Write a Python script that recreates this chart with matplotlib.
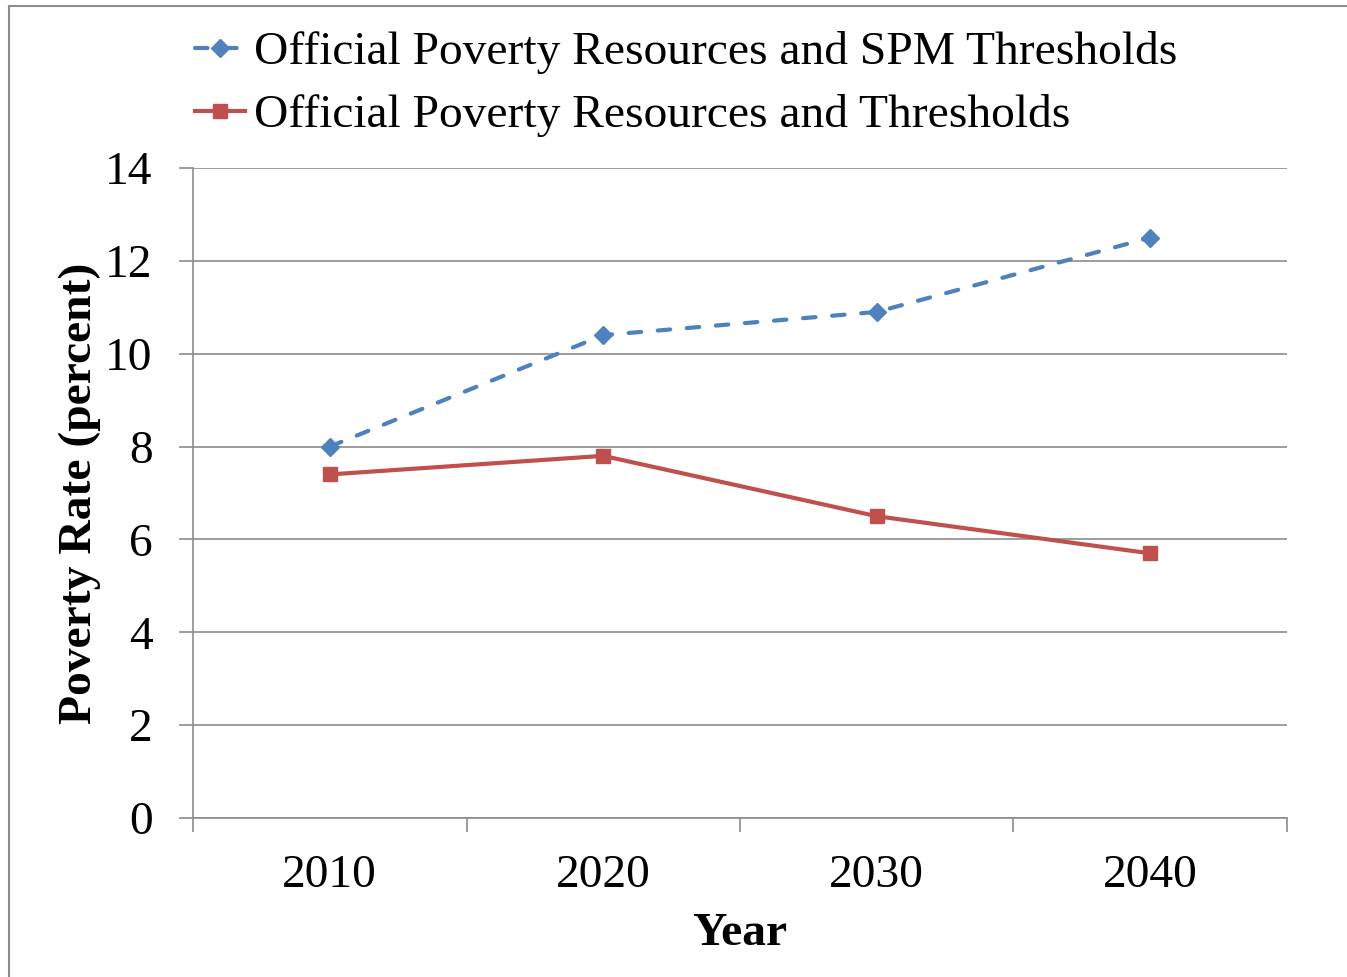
import matplotlib
matplotlib.use("Agg")
import matplotlib.pyplot as plt
from matplotlib.lines import Line2D

years = ["2010", "2020", "2030", "2040"]
spm_series = [8.0, 10.4, 10.9, 12.5]
official_series = [7.4, 7.8, 6.5, 5.7]
label_spm = "Official Poverty Resources and SPM Thresholds"
label_off = "Official Poverty Resources and Thresholds"

plt.rcParams['font.family'] = ['Liberation Serif', 'DejaVu Serif']

W, H = 1347, 977
FS = 34.2
fig = plt.figure(figsize=(W/100, H/100), dpi=100)
ax = fig.add_axes([193/W, 1-818/H, (1287-193)/W, (818-168)/H])

x = list(range(len(years)))
ax.plot(x, spm_series, color='#4F81BD', lw=3, ls=(0, (3.0, 4.0)), dash_capstyle='round',
        marker='D', ms=9, label=label_spm)
ax.plot(x, official_series, color='#C0504D', lw=3, marker='s', ms=9.5,
        label=label_off)

ax.set_xlim(-0.5, len(years)-0.5)
ax.set_ylim(0, 14)
ax.set_yticks(range(0, 15, 2))
ax.yaxis.grid(True, color='#8c8c8c', lw=1.2)
ax.set_axisbelow(True)
ax.set_xticks([i-0.5 for i in range(len(years)+1)])
ax.set_xticklabels([])
ax.set_xticks(x, minor=True)
ax.set_xticklabels(years, minor=True)
ax.tick_params(axis='x', which='major', length=10, width=1.2, color='#8c8c8c')
ax.tick_params(axis='x', which='minor', length=0, pad=26, labelsize=FS)
ax.tick_params(axis='y', length=10, width=1.2, color='#8c8c8c', labelsize=FS, pad=19)
for s in ['top', 'right']:
    ax.spines[s].set_visible(False)
for s in ['left', 'bottom']:
    ax.spines[s].set_color('#8c8c8c')
    ax.spines[s].set_linewidth(1.2)

ax.set_xlabel('Year', fontsize=FS, fontweight='bold', labelpad=12)
ax.set_ylabel('Poverty Rate (percent)', fontsize=FS, fontweight='bold', labelpad=3)

leg = fig.legend(handles=ax.get_lines(), loc='upper left', bbox_to_anchor=(195/W, 1-31/H),
                 frameon=False, fontsize=FS, handlelength=1.05, handletextpad=0.2,
                 labelspacing=0.42, borderaxespad=0, borderpad=0)

fig.add_artist(Line2D([9/W, 9/W], [0, 1-6/H], transform=fig.transFigure, color='#8c8c8c', lw=1.5))
fig.add_artist(Line2D([9/W, 1], [1-6/H, 1-6/H], transform=fig.transFigure, color='#8c8c8c', lw=1.5))

fig.savefig('out.png', dpi=100)
